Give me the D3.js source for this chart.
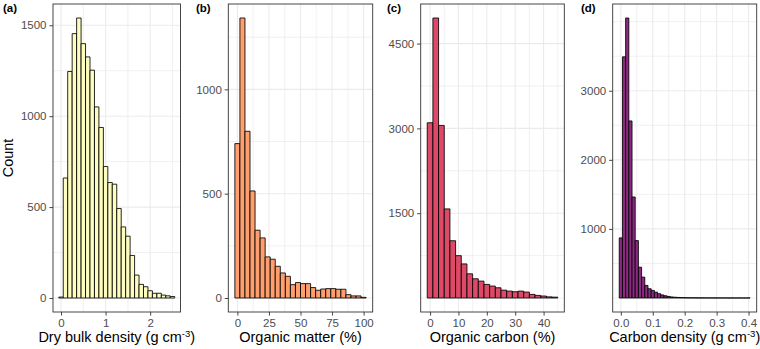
<!DOCTYPE html>
<html>
<head>
<meta charset="utf-8">
<script src="https://cdn.jsdelivr.net/npm/d3@7"></script>
<style>
  body { margin: 0; background: #fff; }
  svg { display: block; font-family: "Liberation Sans", Arial, sans-serif; }
</style>
</head>
<body>
<svg id="chart" width="760" height="349"></svg>
<script>
// (a) dry bulk density, bins of 0.1 centred on 0, 0.1, ...
const dbdStart = 0, dbdWidth = 0.1;
const dbdCounts = [5, 660, 1246, 1454, 1540, 1399, 1326, 1253, 1051, 938, 723, 635, 626, 492, 391, 340,
  234, 126, 75, 62, 40, 26, 26, 16, 12, 8];
const dbdXTicks = [0, 1, 2];
const dbdYTicks = [0, 500, 1000, 1500];

// (b) organic matter (%), bins of 4
const omStart = 0, omWidth = 4;
const omCounts = [740, 1342, 799, 513, 325, 288, 197, 186, 152, 120, 104, 64, 74, 69, 69, 50,
  37, 43, 45, 45, 42, 42, 16, 10, 10, 3];
const omXTicks = [0, 25, 50, 75, 100];
const omYTicks = [0, 500, 1000];

// (c) organic carbon (%), bins of 2
const ocStart = 0, ocWidth = 2;
const ocCounts = [3100, 4953, 3053, 1576, 1013, 749, 603, 428, 340, 299, 240, 211, 181, 139, 122, 111,
  122, 105, 64, 46, 35, 20, 15];
const ocXTicks = [0, 10, 20, 30, 40];
const ocYTicks = [1500, 3000, 4500];

// (d) carbon density, bins of 0.01
const cdStart = 0, cdWidth = 0.01;
const cdCounts = [870, 3491, 4053, 2563, 1462, 831, 446, 302, 182, 134, 110, 85, 62, 44, 32, 22,
  15, 11, 8, 6, 5, 4, 3, 3, 2, 2, 2, 1, 1, 1, 1, 1, 1, 1, 0, 1, 0, 1, 0, 0, 1];
const cdXTicks = [0, 0.1, 0.2, 0.3, 0.4];
const cdYTicks = [1000, 2000, 3000];

const panels = [
  { tag: "(a)", tagX: 3, left: 53, right: 180.5, start: dbdStart, width: dbdWidth, counts: dbdCounts,
    fill: "#FCFDBF", xTicks: dbdXTicks, yTicks: dbdYTicks, fmt: d3.format("d"),
    title: ["Dry bulk density (g cm", "-3", ")"] },
  { tag: "(b)", tagX: 196, left: 228.3, right: 372.7, start: omStart, width: omWidth, counts: omCounts,
    fill: "#FE9F6D", xTicks: omXTicks, yTicks: omYTicks, fmt: d3.format("d"),
    title: ["Organic matter (%)"] },
  { tag: "(c)", tagX: 387, left: 420.7, right: 564.3, start: ocStart, width: ocWidth, counts: ocCounts,
    fill: "#DE4968", xTicks: ocXTicks, yTicks: ocYTicks, fmt: d3.format("d"),
    title: ["Organic carbon (%)"] },
  { tag: "(d)", tagX: 581, left: 612.7, right: 756.7, start: cdStart, width: cdWidth, counts: cdCounts,
    fill: "#8C2981", xTicks: cdXTicks, yTicks: cdYTicks, fmt: d3.format(".1f"),
    title: ["Carbon density (g cm", "-3", ")"] }
];

const panelTop = 4, panelBottom = 312;
const tickLen = 3.6, tickGap = 2.9;
const svg = d3.select("#chart");

// ggplot-style minor breaks: midpoints, plus the extended majors inside the limits
function minorBreaks(major, dom) {
  const step = major[1] - major[0];
  const b = major.slice();
  if (dom[0] < b[0]) b.unshift(b[0] - step);
  if (dom[1] > b[b.length - 1]) b.push(b[b.length - 1] + step);
  const out = [];
  b.forEach((v, i) => {
    out.push(v);
    if (i < b.length - 1) out.push((v + b[i + 1]) / 2);
  });
  return out.filter(v => v >= dom[0] && v <= dom[1] &&
    !major.some(m => Math.abs(m - v) < step * 1e-6));
}

panels.forEach(p => {
  const bins = p.counts.map((c, i) => ({
    x0: p.start + (i - 0.5) * p.width,
    x1: p.start + (i + 0.5) * p.width,
    count: c
  }));

  const xLo = bins[0].x0, xHi = bins[bins.length - 1].x1;
  const xPad = (xHi - xLo) * 0.05;
  const x = d3.scaleLinear().domain([xLo - xPad, xHi + xPad]).range([p.left, p.right]);

  const yMax = d3.max(p.counts);
  const y = d3.scaleLinear().domain([-yMax * 0.05, yMax * 1.05]).range([panelBottom, panelTop]);

  const g = svg.append("g");

  // grid
  g.append("g").selectAll("line")
    .data(minorBreaks(p.xTicks, x.domain()))
    .join("line")
    .attr("x1", d => x(d)).attr("x2", d => x(d))
    .attr("y1", panelTop).attr("y2", panelBottom)
    .attr("stroke", "#ebebeb").attr("stroke-width", 0.7);
  g.append("g").selectAll("line")
    .data(minorBreaks(p.yTicks, y.domain()))
    .join("line")
    .attr("y1", d => y(d)).attr("y2", d => y(d))
    .attr("x1", p.left).attr("x2", p.right)
    .attr("stroke", "#ebebeb").attr("stroke-width", 0.7);
  g.append("g").selectAll("line")
    .data(p.xTicks)
    .join("line")
    .attr("x1", d => x(d)).attr("x2", d => x(d))
    .attr("y1", panelTop).attr("y2", panelBottom)
    .attr("stroke", "#ebebeb").attr("stroke-width", 1.1);
  g.append("g").selectAll("line")
    .data(p.yTicks)
    .join("line")
    .attr("y1", d => y(d)).attr("y2", d => y(d))
    .attr("x1", p.left).attr("x2", p.right)
    .attr("stroke", "#ebebeb").attr("stroke-width", 1.1);

  // bars as closed paths so empty bins still show their outline
  g.append("g").selectAll("path")
    .data(bins)
    .join("path")
    .attr("d", d => {
      const x0 = x(d.x0), x1 = x(d.x1), y0 = y(0), y1 = y(d.count);
      return `M${x0},${y0}V${y1}H${x1}V${y0}Z`;
    })
    .attr("fill", p.fill)
    .attr("stroke", "#000")
    .attr("stroke-width", 0.85);

  // panel border
  g.append("rect")
    .attr("x", p.left).attr("y", panelTop)
    .attr("width", p.right - p.left).attr("height", panelBottom - panelTop)
    .attr("fill", "none").attr("stroke", "#333").attr("stroke-width", 0.9);

  // axes
  const yAxis = g.append("g")
    .attr("transform", `translate(${p.left},0)`)
    .call(d3.axisLeft(y).tickValues(p.yTicks).tickFormat(d3.format("d"))
      .tickSize(tickLen).tickPadding(tickGap));
  const xAxis = g.append("g")
    .attr("transform", `translate(0,${panelBottom})`)
    .call(d3.axisBottom(x).tickValues(p.xTicks).tickFormat(p.fmt)
      .tickSize(tickLen).tickPadding(tickGap));
  [yAxis, xAxis].forEach(a => {
    a.select(".domain").remove();
    a.selectAll(".tick line").attr("stroke", "#333").attr("stroke-width", 0.9);
    a.selectAll(".tick text")
      .attr("fill", "#4d4d4d")
      .attr("font-size", "11.5px")
      .attr("font-family", "'Liberation Sans', Arial, sans-serif");
  });

  // x title
  const t = g.append("text")
    .attr("x", (p.left + p.right) / 2)
    .attr("y", 342)
    .attr("text-anchor", "middle")
    .attr("font-size", "14.5px")
    .attr("fill", "#000");
  t.append("tspan").text(p.title[0]);
  if (p.title.length > 1) {
    t.append("tspan").attr("dy", -5).attr("font-size", "9.5px").text(p.title[1]);
    t.append("tspan").attr("dy", 5).text(p.title[2]);
  }

  // tag
  g.append("text")
    .attr("x", p.tagX).attr("y", 11.5)
    .attr("font-size", "11.5px")
    .attr("font-weight", "bold")
    .attr("fill", "#000")
    .text(p.tag);
});

svg.append("text")
  .attr("transform", "translate(13,158) rotate(-90)")
  .attr("text-anchor", "middle")
  .attr("font-size", "14.5px")
  .attr("fill", "#000")
  .text("Count");
</script>
</body>
</html>
